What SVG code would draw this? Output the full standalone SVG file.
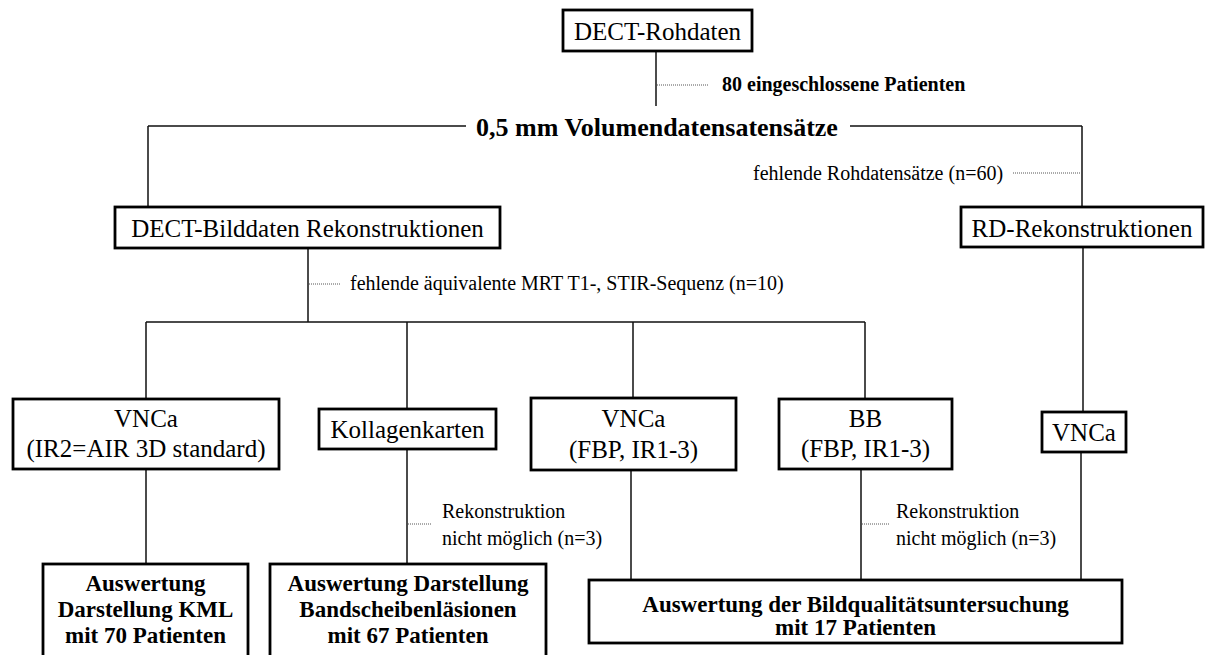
<svg xmlns="http://www.w3.org/2000/svg" width="1205" height="655" viewBox="0 0 1205 655">
<style>
.bx{fill:#fff;stroke:#000;stroke-width:2.8}
.ln{fill:none;stroke:#111;stroke-width:1.5}
.dt{fill:none;stroke:#555;stroke-width:1;stroke-dasharray:1 1}
text{font-family:"Liberation Serif","Times New Roman",serif;fill:#000}
.r{font-size:25px}
.s{font-size:20px}
.b{font-size:23px;font-weight:bold}
.c{text-anchor:middle}
</style>
<rect width="1205" height="655" fill="#fff"/>
<g id="connectors">
<path class="ln" d="M656,51V106"/>
<path class="dt" d="M657,85H708"/>
<path class="ln" d="M148,126H466M850,126H1082"/>
<path class="ln" d="M148,126V207M1082,126V207"/>
<path class="dt" d="M1013,173H1080"/>
<path class="ln" d="M308,248V322M146,322H865M146,322V399M407,322V409M633,322V398M865,322V399"/>
<path class="dt" d="M309,284H340"/>
<path class="ln" d="M1083,247V412"/>
<path class="ln" d="M146,469V564M407,449V564M631,470V580M861,469V580M1081,452V580"/>
<path class="dt" d="M408,524H432M862,524H889"/>
</g>
<g id="n-dect-rohdaten"><rect class="bx" x="563" y="10" width="189" height="41"/><text class="r c" x="657.5" y="40">DECT-Rohdaten</text></g>
<g id="l-80"><text x="722" y="91" style="font-size:20px;font-weight:bold">80 eingeschlossene Patienten</text></g>
<g id="n-volumen"><text class="c" x="657" y="136" style="font-size:26px;font-weight:bold">0,5 mm Volumendatensatensätze</text></g>
<g id="l-60"><text class="s" x="753" y="180">fehlende Rohdatensätze (n=60)</text></g>
<g id="n-bilddaten"><rect class="bx" x="115" y="207" width="385" height="41"/><text class="r c" x="307.5" y="237">DECT-Bilddaten Rekonstruktionen</text></g>
<g id="n-rd"><rect class="bx" x="961" y="207" width="242" height="40"/><text class="r c" x="1082" y="237">RD-Rekonstruktionen</text></g>
<g id="l-10"><text class="s" x="350" y="290">fehlende äquivalente MRT T1-, STIR-Sequenz (n=10)</text></g>
<g id="n-vnca-ir2"><rect class="bx" x="13" y="399" width="266" height="70"/><text class="r c" x="146" y="427">VNCa</text><text class="r c" x="146" y="457">(IR2=AIR 3D standard)</text></g>
<g id="n-kollagen"><rect class="bx" x="319" y="409" width="177" height="40"/><text class="r c" x="407.5" y="438">Kollagenkarten</text></g>
<g id="n-vnca-fbp"><rect class="bx" x="531" y="398" width="205" height="72"/><text class="r c" x="633.5" y="427">VNCa</text><text class="r c" x="633.5" y="458">(FBP, IR1-3)</text></g>
<g id="n-bb"><rect class="bx" x="779" y="399" width="173" height="70"/><text class="r c" x="865.5" y="427">BB</text><text class="r c" x="865.5" y="457">(FBP, IR1-3)</text></g>
<g id="n-vnca-rd"><rect class="bx" x="1042" y="412" width="84" height="40"/><text class="r c" x="1084" y="441">VNCa</text></g>
<g id="l-rek1"><text class="s" x="442" y="518">Rekonstruktion</text><text class="s" x="442" y="545">nicht möglich (n=3)</text></g>
<g id="l-rek2"><text class="s" x="896" y="518">Rekonstruktion</text><text class="s" x="896" y="545">nicht möglich (n=3)</text></g>
<g id="n-kml"><rect class="bx" x="43" y="564" width="205" height="100"/><text class="b c" x="145.5" y="591">Auswertung</text><text class="b c" x="145.5" y="617">Darstellung KML</text><text class="b c" x="145.5" y="643">mit 70 Patienten</text></g>
<g id="n-bandscheiben"><rect class="bx" x="270" y="564" width="276" height="100"/><text class="b c" x="408" y="591">Auswertung Darstellung</text><text class="b c" x="408" y="617">Bandscheibenläsionen</text><text class="b c" x="408" y="643">mit 67 Patienten</text></g>
<g id="n-bildqualitaet"><rect class="bx" x="589" y="580" width="533" height="63"/><text class="b c" x="855.5" y="612">Auswertung der Bildqualitätsuntersuchung</text><text class="b c" x="855.5" y="635">mit 17 Patienten</text></g>
</svg>
